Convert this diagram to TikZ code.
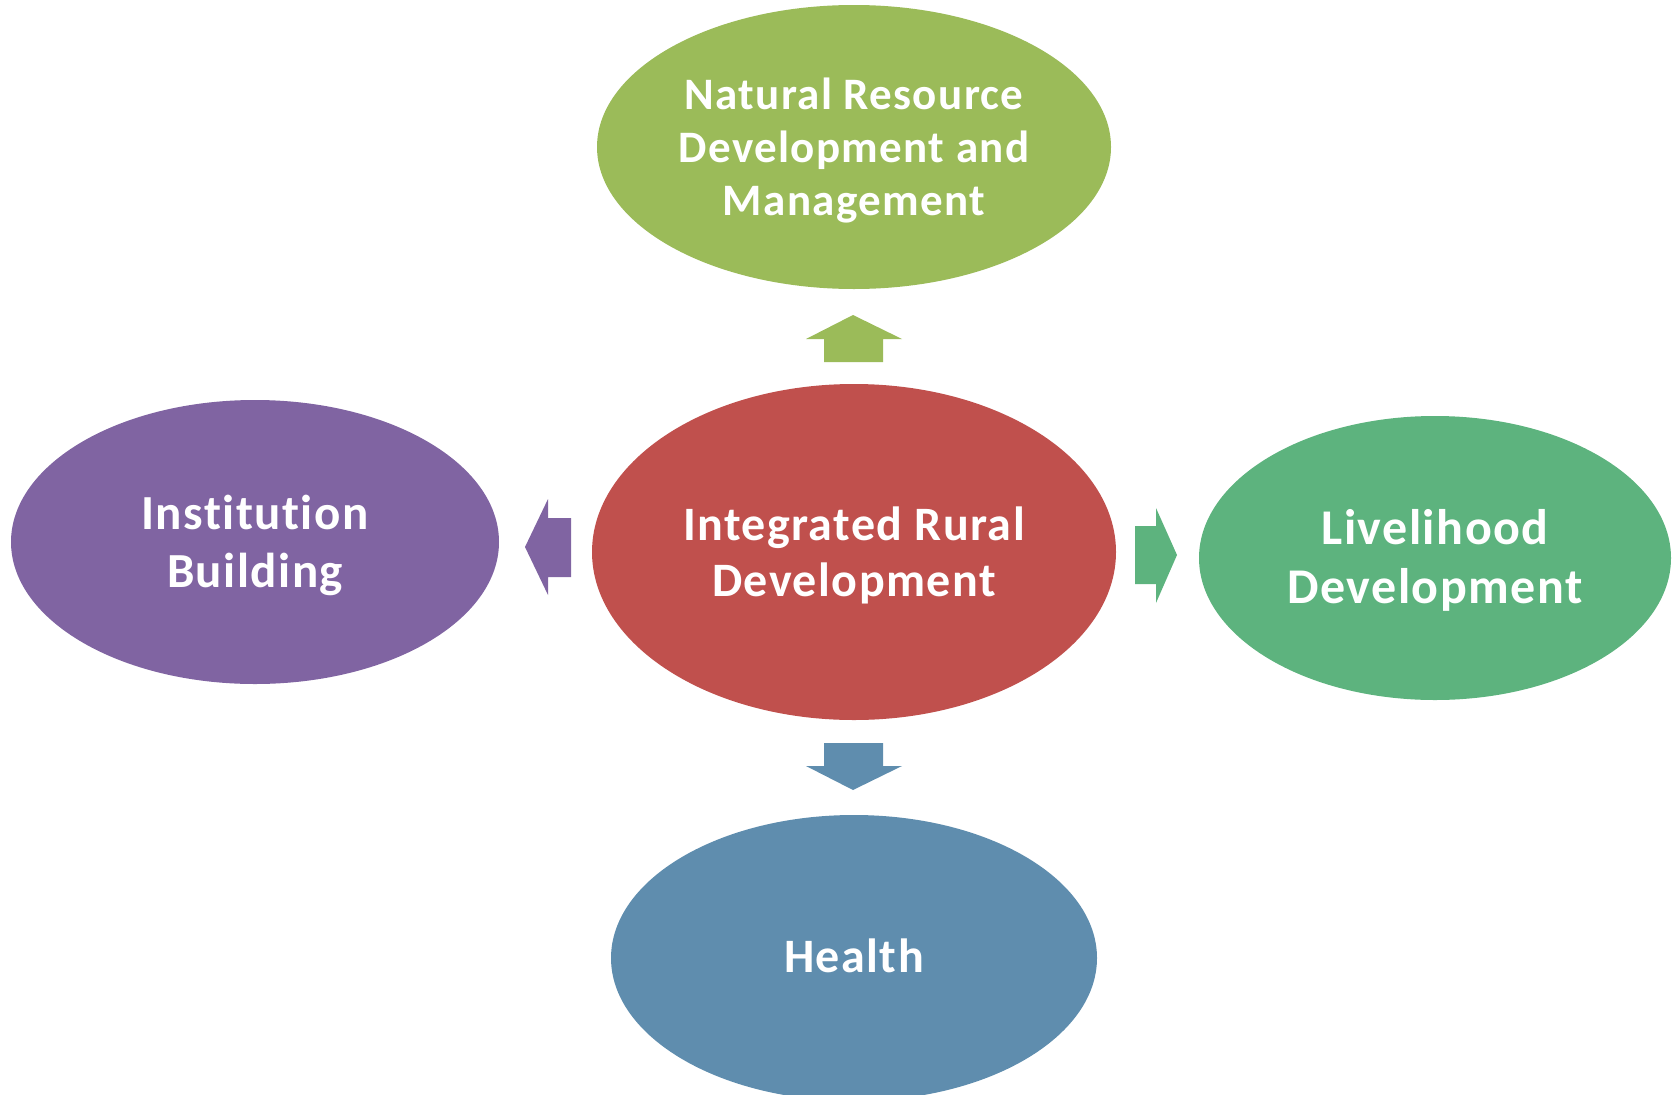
\documentclass[tikz,border=0pt]{standalone}
\usepackage{fontspec}
\setmainfont{Carlito}[Ligatures=NoCommon,LetterSpace=3.0]
\usetikzlibrary{shapes.geometric,calc,positioning}
\definecolor{natgreen}{HTML}{9BBB59}
\definecolor{irdred}{HTML}{C0504D}
\definecolor{instpurple}{HTML}{8064A2}
\definecolor{livgreen}{HTML}{5DB37E}
\definecolor{healthblue}{HTML}{5F8DAE}
\tikzset{blob/.style={shape=ellipse,inner sep=0pt,text=white,align=center,font=\bfseries\fontsize{48}{56}\selectfont}}

\begin{document}
\begin{tikzpicture}[x=1pt,y=-1pt]
\useasboundingbox (0,0) rectangle (1674,1095);

% Ellipses
\node[blob,fill=irdred,minimum width=524pt,minimum height=336pt,text depth=0pt] (ird) at (854,552) {Integrated Rural\\Development};
\node[blob,fill=natgreen,minimum width=514pt,minimum height=284pt] (nrdm) at (854,147) {};
\node[blob,fill=instpurple,minimum width=488pt,minimum height=284pt] (inst) at (255,542) {};
\node[blob,fill=livgreen,minimum width=472pt,minimum height=284pt] (liv) at (1435,558) {};
\node[blob,fill=healthblue,minimum width=486pt,minimum height=286pt] (hlth) at (854,958) {};

% Labels
\node[blob,yshift=-4pt,font=\bfseries\fontsize{45}{53}\selectfont] (nrdmtxt) at (nrdm) {Natural Resource\\Development and\\Management};
\node[blob,yshift=-3pt,font=\bfseries\fontsize{49}{58}\selectfont] (insttxt) at (inst) {Institution\\Building};
\node[blob,yshift=-2pt,font=\bfseries\fontsize{50}{59}\selectfont] (livtxt) at (liv) {Livelihood\\Development};
\node[blob,yshift=2pt] (hlthtxt) at (hlth) {Health};

% Block arrows
\fill[natgreen] (824,362) -- (824,339) -- (806,339) -- (853,315) -- (902,339) -- (883,339) -- (883,362) -- cycle;
\fill[healthblue] (824,743) -- (824,766) -- (806,766) -- (853,790) -- (902,766) -- (883,766) -- (883,743) -- cycle;
\fill[instpurple] (571,518) -- (548,518) -- (548,499) -- (525,547) -- (548,595) -- (548,577) -- (571,577) -- cycle;
\fill[livgreen] (1135,526) -- (1156,526) -- (1156,508) -- (1177,555) -- (1156,603) -- (1156,584) -- (1135,584) -- cycle;

\end{tikzpicture}
\end{document}
